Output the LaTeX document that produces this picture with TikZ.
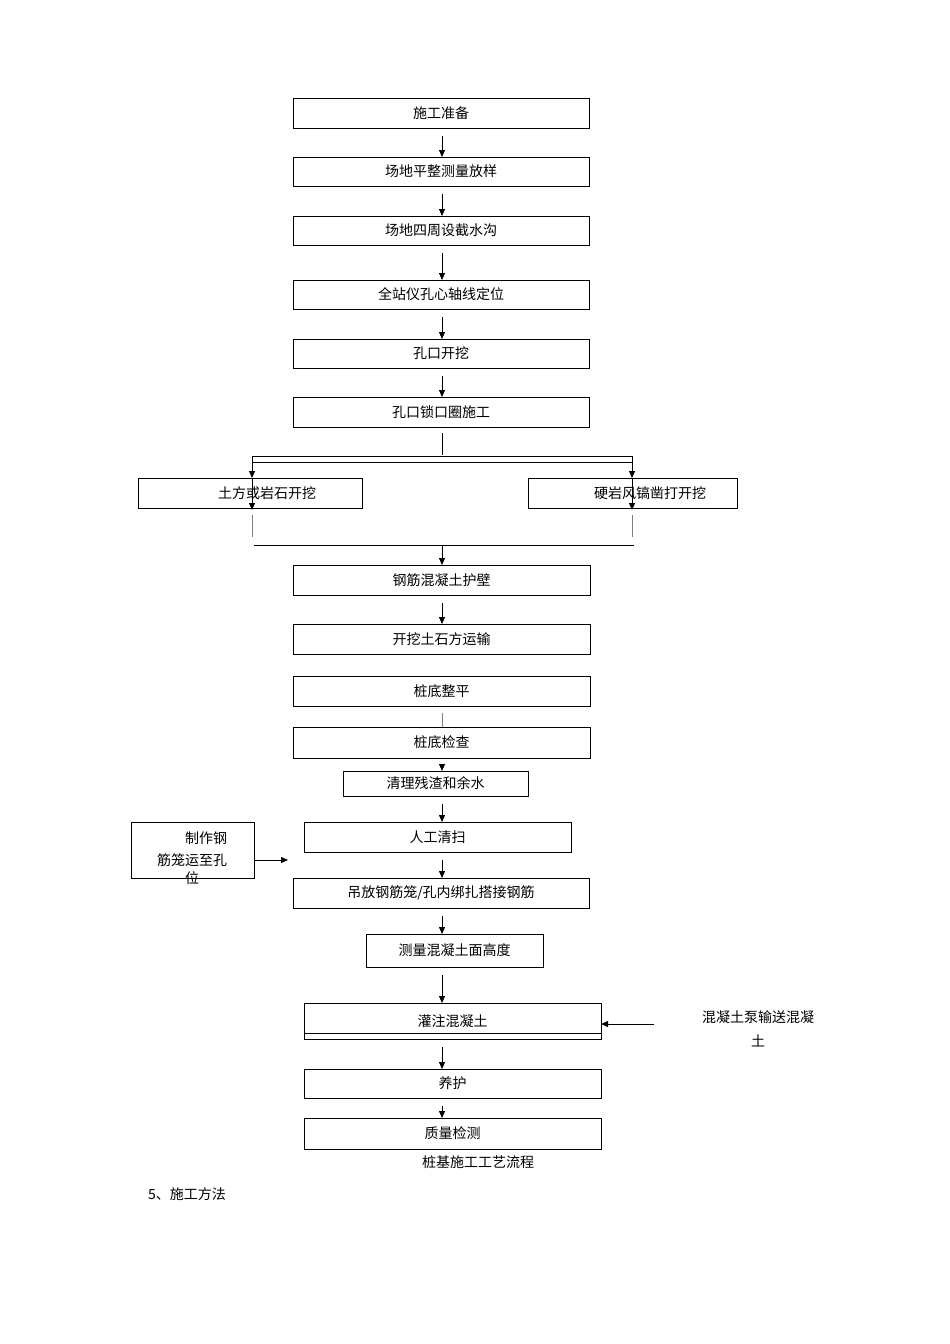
\documentclass[tikz,border=0pt]{standalone}
\usepackage{fontspec}
\setmainfont{Noto Sans CJK SC}
\usetikzlibrary{arrows.meta,calc}
\begin{document}
\begin{tikzpicture}[x=1pt,y=-1pt,
  bx/.style={draw,line width=0.9pt},
  lb/.style={font=\fontsize{14}{16}\selectfont,inner sep=0pt},
  ar/.style={-{Triangle[length=7pt,width=6pt]},line width=0.8pt}]
\useasboundingbox (0,0) rectangle (950,1344);
\fill[white] (0,0) rectangle (950,1344);
\newcommand{\bxn}[6]{\draw[bx] (#2,#3) rectangle (#4,#5); \node[lb] (#1) at ({(#2+#4)/2},{(#3+#5)/2}) {#6};
 \coordinate (#1t) at (442,#3); \coordinate (#1b) at (442,#5);}
\bxn{a}{293}{98}{589}{128}{施工准备}
\bxn{b}{293}{157}{589}{186}{场地平整测量放样}
\bxn{c}{293}{216}{589}{245}{场地四周设截水沟}
\bxn{d}{293}{280}{589}{309}{全站仪孔心轴线定位}
\bxn{e}{293}{339}{589}{368}{孔口开挖}
\bxn{f}{293}{397}{589}{427}{孔口锁口圈施工}
\bxn{g}{293}{565}{590}{595}{钢筋混凝土护壁}
\bxn{h}{293}{624}{590}{654}{开挖土石方运输}
\bxn{i}{293}{676}{590}{706}{桩底整平}
\bxn{j}{293}{727}{590}{758}{桩底检查}
\bxn{k}{343}{771}{528}{796}{清理残渣和余水}
\bxn{l}{304}{822}{571}{852}{人工清扫}
\bxn{m}{293}{878}{589}{908}{吊放钢筋笼/孔内绑扎搭接钢筋}
\bxn{n}{366}{934}{543}{967}{测量混凝土面高度}
\bxn{o}{304}{1003}{601}{1039}{灌注混凝土}
\draw[line width=0.6pt] (304,1033) -- (601,1033);
\bxn{p}{304}{1069}{601}{1098}{养护}
\bxn{q}{304}{1118}{601}{1149}{质量检测}
% branch boxes
\draw[bx] (138,478) rectangle (362,508); \node[lb] (L) at (267,493) {土方或岩石开挖};
\draw[bx] (528,478) rectangle (737,508); \node[lb] (R) at (650,493) {硬岩风镐凿打开挖};
% arrows main chain
\foreach \u/\v in {a/b,b/c,c/d,d/e,e/f,g/h,j/k,k/l,l/m,m/n,n/o,o/p,p/q}{
  \draw[ar] ($(\u b)+(0,8)$) -- (\v t);}
\draw[line width=0.5pt,gray] (442,713) -- (442,727);
% split
\coordinate (s1) at (442,433); \coordinate (s2) at (442,455);
\draw[line width=0.8pt] (s1) -- (s2);
\draw[line width=0.8pt] (252,456) -- (632,456);
\draw[line width=0.8pt] (252,462) -- (632,462);
\coordinate (lt) at (252,456); \coordinate (rt) at (632,456);
\draw[ar] (lt) -- (252,478);
\draw[ar] (rt) -- (632,478);
\draw[ar] (252,478) -- (252,510);
\draw[ar] (632,478) -- (632,510);
\draw[line width=0.5pt,gray] (252,515) -- (252,537);
\draw[line width=0.5pt,gray] (632,515) -- (632,537);
\draw[line width=0.8pt] (254,545) -- (634,545);
\coordinate (jn) at (442,545);
\draw[ar] (jn) -- (gt);
% side boxes
\draw[bx] (131,822) rectangle (254,878);
\node[lb,align=center] (side1) at (192,858) {\hspace*{2em}制作钢\\[6pt]筋笼运至孔\\[2pt]位};
\draw[ar] (254,860) -- (288,860);
\node[lb,align=center] (side2) at (758,1029) {混凝土泵输送混凝\\[8pt]土};
\draw[ar] (654,1024) -- (601,1024);
\node[lb] (cap) at (478,1162) {桩基施工工艺流程};
\node[lb,anchor=west] (sec) at (148,1194) {5、施工方法};
\end{tikzpicture}
\end{document}
